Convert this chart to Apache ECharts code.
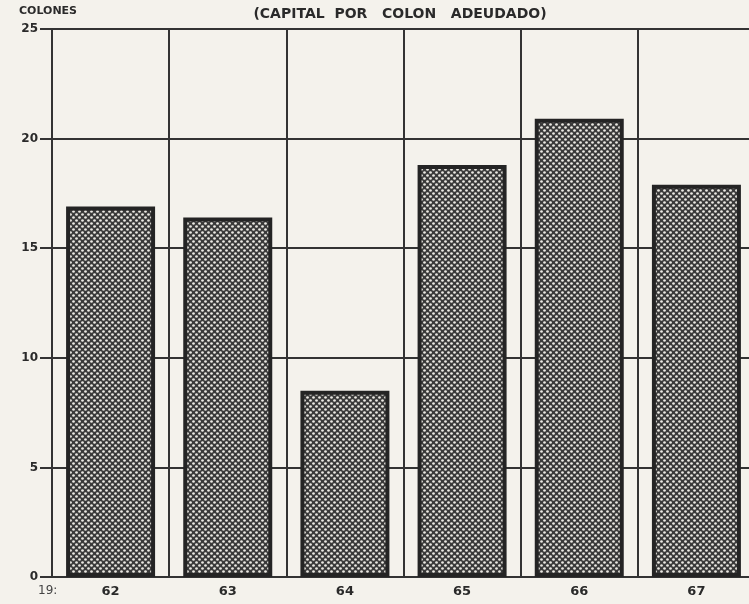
<!DOCTYPE html>
<html>
<head>
<meta charset="utf-8">
<script src="https://cdn.jsdelivr.net/npm/echarts@6/dist/echarts.min.js"></script>
<style>
html,body{margin:0;padding:0;background:#f4f2ec;overflow:hidden;width:749px;height:604px;}
#chart{width:760px;height:604px;}
</style>
</head>
<body>
<div id="chart"></div>
<script>
const categories = ['62', '63', '64', '65', '66', '67'];
const values = [16.9, 16.4, 8.5, 18.8, 20.9, 17.9];
const yTicks = { min: 0, max: 25, interval: 5 };
const titleText = '(CAPITAL  POR   COLON   ADEUDADO)';
const yName = 'COLONES';
const yearPrefix = '19:';

function makePattern() {
  const c = document.createElement('canvas');
  c.width = 6; c.height = 6;
  const g = c.getContext('2d');
  g.fillStyle = '#3a3a3a';
  g.fillRect(0, 0, 6, 6);
  g.fillStyle = '#ebe9e3';
  g.beginPath(); g.arc(1.5, 1.5, 1.35, 0, Math.PI * 2); g.fill();
  g.beginPath(); g.arc(4.5, 4.5, 1.35, 0, Math.PI * 2); g.fill();
  return c;
}

const chart = echarts.init(document.getElementById('chart'));
const font = '"DejaVu Sans", "Liberation Sans", Arial, sans-serif';
chart.setOption({
  backgroundColor: '#f4f2ec',
  animation: false,
  title: {
    text: titleText,
    left: 395, top: 2, textAlign: 'center',
    textStyle: { fontFamily: font, fontWeight: 'bold', fontSize: 14, color: '#2a2a2a' }
  },
  graphic: [
    { type: 'text', left: 19, top: 6, style: { text: yName, font: 'bold 11px ' + font, fill: '#2a2a2a' } },
    { type: 'text', left: 38, top: 585, style: { text: yearPrefix, font: '12px ' + font, fill: '#444' } }
  ],
  grid: { left: 52, right: 5, top: 29, bottom: 27, containLabel: false },
  xAxis: {
    type: 'category',
    data: categories,
    boundaryGap: true,
    axisLine: { show: true, lineStyle: { color: '#333', width: 2 } },
    axisTick: { show: false },
    axisLabel: { fontFamily: font, fontWeight: 'bold', fontSize: 13, color: '#2a2a2a', margin: 8 },
    splitLine: { show: true, lineStyle: { color: '#333', width: 2 } }
  },
  yAxis: {
    type: 'value',
    min: yTicks.min, max: yTicks.max, interval: yTicks.interval,
    axisLine: { show: true, lineStyle: { color: '#333', width: 2 } },
    axisTick: { show: true, length: 12, lineStyle: { color: '#333', width: 2 } },
    axisLabel: { fontFamily: font, fontWeight: 'bold', fontSize: 12, color: '#2a2a2a', margin: 14 },
    splitLine: { show: true, lineStyle: { color: '#333', width: 2 } }
  },
  series: [{
    type: 'bar',
    data: values,
    barWidth: 89,
    itemStyle: {
      color: { image: makePattern(), repeat: 'repeat' },
      borderColor: '#242424',
      borderWidth: 4
    }
  }]
});
</script>
</body>
</html>
